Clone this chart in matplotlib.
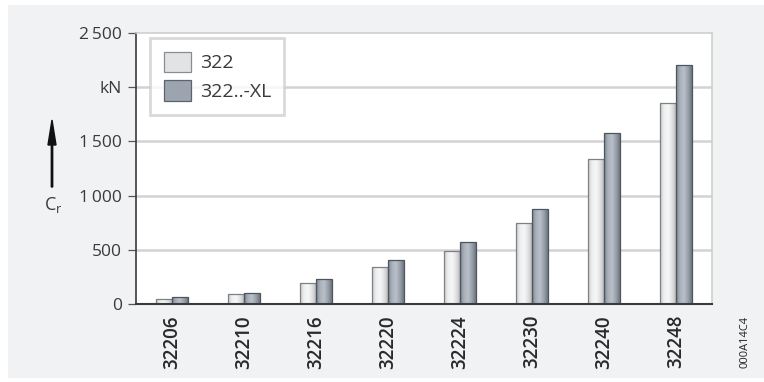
"""Basic dynamic load rating Cr of tapered roller bearings, series 322 vs 322..-XL"""

import matplotlib

matplotlib.use("Agg")
import matplotlib.pyplot as plt
from matplotlib.patches import Rectangle, FancyArrow
import matplotlib.colors as mcolors
import numpy as np

plt.rcParams["font.family"] = ["Open Sans", "DejaVu Sans"]

BEARINGS = ["32206", "32210", "32216", "32220", "32224", "32230", "32240", "32248"]
CR_322 = [50, 89, 197, 344, 493, 748, 1335, 1858]
CR_322_XL = [65, 104, 231, 406, 572, 880, 1581, 2208]
SERIES = ["322", "322..-XL"]
Y_TICKS = [0, 500, 1000, 1500, 2000, 2500]
Y_TICK_LABELS = ["0", "500", "1\u2009000", "1\u2009500", "kN", "2\u2009500"]

# left-to-right shading across a bar, gives the rounded look
LIGHT_SHADE = ["#c9cacc", "#eeeff0", "#f7f7f7", "#e2e3e5", "#bdbec0"]
DARK_SHADE = ["#7e8590", "#a9b1bc", "#b9c0ca", "#9aa2ad", "#6f7680"]

BAR_W = 0.22


def shaded_bar(ax, x0, height, colors, edge):
    cmap = mcolors.LinearSegmentedColormap.from_list("shade", colors)
    grad = np.linspace(0, 1, 64).reshape(1, -1)
    im = ax.imshow(
        grad,
        cmap=cmap,
        aspect="auto",
        extent=(x0, x0 + BAR_W, 0, height),
        interpolation="bicubic",
        zorder=3,
    )
    rect = Rectangle(
        (x0, 0), BAR_W, height, facecolor="none", edgecolor=edge, lw=0.9, zorder=4
    )
    ax.add_patch(rect)
    im.set_clip_path(rect)


fig = plt.figure(figsize=(7.64, 3.82), dpi=100)
fig.patch.set_facecolor("white")
fig.patches.append(
    Rectangle(
        (8 / 764, 4 / 382),
        1 - 8 / 764,
        373 / 382,
        transform=fig.transFigure,
        facecolor="#f1f2f4",
        edgecolor="none",
        zorder=-10,
    )
)

ax = fig.add_axes([136 / 764, 1 - 304 / 382, 576 / 764, 271 / 382])
ax.set_facecolor("white")

x = np.arange(len(BEARINGS))
for i in x:
    shaded_bar(ax, i - BAR_W, CR_322[i], LIGHT_SHADE, "#7d8085")
    shaded_bar(ax, i, CR_322_XL[i], DARK_SHADE, "#4f555c")

ax.set_xlim(-0.5, len(BEARINGS) - 0.5)
ax.set_ylim(0, 2500)
ax.set_yticks(Y_TICKS)
ax.set_yticklabels(Y_TICK_LABELS, fontsize=12.5, color="#3a3a3a")
ax.set_xticks(x)
ax.set_xticklabels(BEARINGS, rotation=90, fontsize=13.5, fontweight="semibold", color="#2a2a2a")
ax.tick_params(axis="x", length=0, pad=8)
ax.tick_params(axis="y", length=6, width=0.9, color="#555555", pad=4)

for y in Y_TICKS[1:-1]:
    ax.axhline(y, color="#d3d3d3", lw=1.8, zorder=1)

for side in ["top", "right"]:
    ax.spines[side].set_color("#cfcfcf")
    ax.spines[side].set_linewidth(1.2)
ax.spines["left"].set_color("#3a3a3a")
ax.spines["left"].set_linewidth(1.2)
ax.spines["bottom"].set_color("#3a3a3a")
ax.spines["bottom"].set_linewidth(1.5)
ax.spines["bottom"].set_zorder(5)

# legend
handles = [
    Rectangle((0, 0), 1, 1, facecolor="#e2e3e5", edgecolor="#8a8c90", lw=0.9),
    Rectangle((0, 0), 1, 1, facecolor="#9ca4af", edgecolor="#5d636b", lw=0.9),
]
leg = ax.legend(
    handles,
    SERIES,
    loc="upper left",
    bbox_to_anchor=(14 / 576, 1 - 5 / 271),
    fontsize=14,
    frameon=True,
    fancybox=False,
    handlelength=1.4,
    handleheight=1.25,
    handletextpad=0.45,
    borderpad=0.7,
    borderaxespad=0,
    labelspacing=0.4,
)
leg.get_frame().set_edgecolor("#d0d0d0")
leg.get_frame().set_linewidth(2.0)
for t in leg.get_texts():
    t.set_color("#3a3a3a")

# axis quantity with arrow
fig.patches.append(
    FancyArrow(
        52 / 764, 1 - 187 / 382, 0, 67 / 382,
        width=0.0018, head_width=0.0105, head_length=25 / 382,
        length_includes_head=True, transform=fig.transFigure,
        color="#111111",
    )
)
fig.text(53 / 764, 1 - 205 / 382, "C$_\\mathregular{r}$", fontsize=13, color="#3a3a3a",
         ha="center", va="center")

fig.text(745 / 764, 1 - 342 / 382, "000A14C4", rotation=90, fontsize=8,
         color="#222222", ha="center", va="center")

fig.savefig("out.png", dpi=100, facecolor=fig.get_facecolor())
